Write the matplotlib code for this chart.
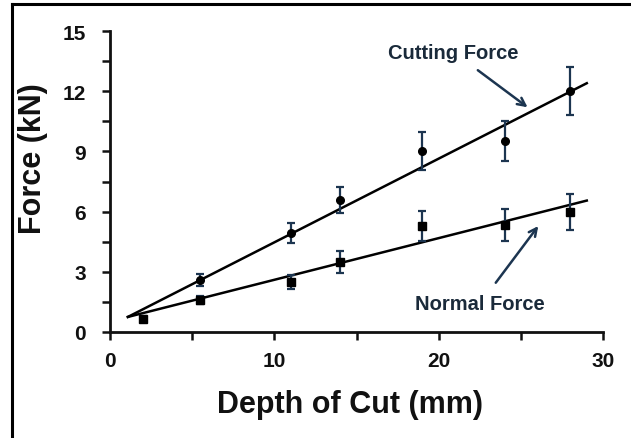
import matplotlib
matplotlib.use("Agg")
import matplotlib.pyplot as plt
from matplotlib.lines import Line2D
from matplotlib.ticker import MultipleLocator

plt.rcParams['font.family'] = ['Liberation Sans', 'DejaVu Sans']

# Data
cut_x = [5.5, 11, 14, 19, 24, 28]
cut_y = [2.6, 4.95, 6.6, 9.0, 9.5, 12.0]
cut_err = [0.3, 0.5, 0.65, 0.95, 1.0, 1.2]

norm_x = [2, 5.5, 11, 14, 19, 24, 28]
norm_y = [0.65, 1.6, 2.5, 3.5, 5.3, 5.35, 6.0]
norm_err = [0.15, 0.2, 0.35, 0.55, 0.75, 0.8, 0.9]

fit_x = [1.1, 29.0]
cut_fit = [0.75, 12.4]
norm_fit = [0.75, 6.55]

xticks = [0, 10, 20, 30]
yticks = [0, 3, 6, 9, 12, 15]

navy = '#1c3550'

fig = plt.figure(figsize=(6.31, 4.39), dpi=100)
ax = fig.add_axes([0.174, 0.2415, 0.782, 0.6855])

ax.plot(fit_x, cut_fit, color='black', lw=1.8, zorder=3)
ax.plot(fit_x, norm_fit, color='black', lw=1.8, zorder=3)

ax.errorbar(cut_x, cut_y, yerr=cut_err, fmt='o', color='black', ecolor=navy,
            ms=5.5, elinewidth=1.6, capsize=3, capthick=1.6, zorder=4)
ax.errorbar(norm_x, norm_y, yerr=norm_err, fmt='s', color='black', ecolor=navy,
            ms=6, elinewidth=1.6, capsize=3, capthick=1.6, zorder=4)

ax.set_xlim(0, 30)
ax.set_ylim(0, 15)
ax.set_xticks(xticks)
ax.set_yticks(yticks)
ax.xaxis.set_minor_locator(MultipleLocator(5))
ax.yaxis.set_minor_locator(MultipleLocator(1.5))
ax.tick_params(which='both', direction='out', width=1.8, color='#111111', length=6)
ax.tick_params(axis='x', which='major', labelsize=15, pad=8)
ax.tick_params(axis='y', which='major', labelsize=15, pad=11)
for lab in ax.get_xticklabels() + ax.get_yticklabels():
    lab.set_fontweight('bold')
    lab.set_color('#111111')

for s in ['top', 'right']:
    ax.spines[s].set_visible(False)
for s in ['left', 'bottom']:
    ax.spines[s].set_linewidth(2.0)
    ax.spines[s].set_color('#111111')

ax.set_xlabel('Depth of Cut (mm)', fontsize=22, fontweight='bold', color='#111111')
ax.set_ylabel('Force (kN)', fontsize=22, fontweight='bold', color='#111111')
ax.xaxis.set_label_coords(0.487, -0.19)
ax.yaxis.set_label_coords(-0.125, 0.58)

ax.annotate('Cutting Force', xy=(25.4, 11.2), xytext=(20.9, 13.95),
            ha='center', va='center', fontsize=14.5, fontweight='bold', color='#1a2a3a',
            arrowprops=dict(arrowstyle='->', color=navy, lw=1.8, shrinkA=7, shrinkB=0,
                            mutation_scale=14))
ax.annotate('Normal Force', xy=(26.05, 5.28), xytext=(22.5, 1.4),
            ha='center', va='center', fontsize=14.5, fontweight='bold', color='#1a2a3a',
            arrowprops=dict(arrowstyle='->', color=navy, lw=1.8, shrinkA=8, shrinkB=0,
                            mutation_scale=14))

# Partial frame (top and left edges)
fig.add_artist(Line2D([0.019, 1.0], [0.9886, 0.9886], transform=fig.transFigure,
                      color='black', lw=2.2))
fig.add_artist(Line2D([0.019, 0.019], [0.0, 0.9886], transform=fig.transFigure,
                      color='black', lw=2.2))

fig.savefig('out.png', dpi=100)
